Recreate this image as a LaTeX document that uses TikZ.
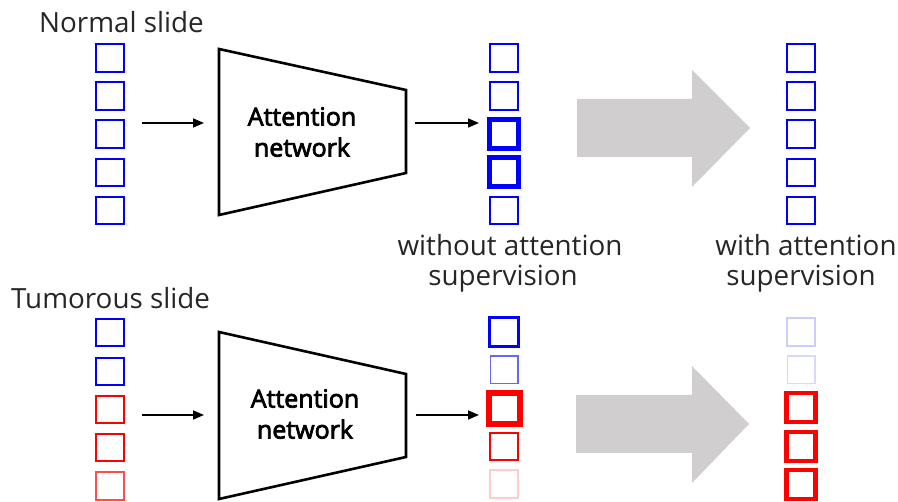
\documentclass[tikz,border=0pt]{standalone}
\usepackage{fontspec}
\setmainfont{Open Sans}
\newfontfamily\netfont[FakeBold=3]{Open Sans}
\usetikzlibrary{arrows.meta}
\definecolor{arrgray}{HTML}{D0CECE}
\definecolor{pblue}{HTML}{0000FF}
\definecolor{pred}{HTML}{FF0000}
\begin{document}
\begin{tikzpicture}[x=1pt,y=-1pt,
  sq/.style={draw, minimum size=27.5pt, inner sep=0pt, line width=1.8pt},
  bsq/.style={sq, draw=pblue},
  rsq/.style={sq, draw=pred},
  lbl/.style={font=\fontsize{27.8}{32}\selectfont, inner sep=0pt, text=black!85},
  net/.style={font=\fontsize{25}{31}\netfont, align=center, inner sep=0pt, text=black},
  conn/.style={line width=1.6pt, -{Triangle[length=11pt,width=9pt]}},
  bigarrow/.style={fill=arrgray, draw=none},
  trap/.style={draw=black, line width=2.6pt, line join=miter}]
\useasboundingbox (0,0) rectangle (898,502);

% ---------- top row ----------
\node[lbl, anchor=base west] (lblN) at (39,33) {Normal slide};
\foreach \i/\y in {1/58,2/96,3/134,4/172.5,5/210.5}
  \node[bsq] (tl\i) at (110,\y) {};
\draw[trap] (219,49) -- (406,90) -- (406,173) -- (219,215) -- cycle;
\node[net] (net1) at (302,132) {Attention\\network};
\coordinate (a1s) at (142,123); \coordinate (a1e) at (204,123);
\draw[conn] (a1s) -- (a1e);
\coordinate (a2s) at (415,123); \coordinate (a2e) at (479,123);
\draw[conn] (a2s) -- (a2e);
\node[bsq] (tm1) at (504,58) {};
\node[bsq] (tm2) at (504,96) {};
\node[bsq, line width=4.5pt, minimum size=29pt] (tm3) at (504,134) {};
\node[bsq, line width=4.5pt, minimum size=29pt] (tm4) at (504,172) {};
\node[bsq] (tm5) at (504,210.5) {};
\fill[bigarrow] (577,99) -- (692,99) -- (692,70) -- (750,128) -- (692,187) -- (692,157) -- (577,157) -- cycle;
\foreach \i/\y in {1/58,2/96,3/134,4/172.5,5/210.5}
  \node[bsq] (tr\i) at (801,\y) {};
\node[lbl, anchor=base] (wo1) at (510,256) {without attention};
\node[lbl, anchor=base] (wo2) at (503,286) {supervision};
\node[lbl, anchor=base] (wi1) at (806,256) {with attention};
\node[lbl, anchor=base] (wi2) at (801,286) {supervision};

% ---------- bottom row ----------
\node[lbl, anchor=base west] (lblT) at (11,309) {Tumorous slide};
\node[bsq] (bl1) at (110,332.5) {};
\node[bsq] (bl2) at (110,371.5) {};
\node[rsq] (bl3) at (110,409.5) {};
\node[rsq] (bl4) at (110,447.5) {};
\node[rsq, draw=pred!70] (bl5) at (110,486) {};
\draw[trap] (219,332) -- (406,374) -- (406,457) -- (219,499) -- cycle;
\node[net] (net2) at (305,414) {Attention\\network};
\coordinate (b1s) at (142,415); \coordinate (b1e) at (204,415);
\draw[conn] (b1s) -- (b1e);
\coordinate (b2s) at (416,415); \coordinate (b2e) at (479,415);
\draw[conn] (b2s) -- (b2e);
\node[bsq, line width=3.5pt, minimum size=29pt] (bm1) at (504,332) {};
\node[bsq, draw=pblue!60, line width=1.5pt] (bm2) at (504,370) {};
\node[rsq, line width=6pt, minimum size=31pt] (bm3) at (504,408.5) {};
\node[rsq, line width=2.4pt] (bm4) at (504,446.5) {};
\node[rsq, draw=pred!20, line width=2pt] (bm5) at (504,484) {};
\fill[bigarrow] (576,395) -- (692,395) -- (692,366) -- (749,424) -- (692,483) -- (692,453) -- (576,453) -- cycle;
\node[bsq, draw=pblue!20, line width=2pt] (br1) at (801,332) {};
\node[bsq, draw=pblue!15, line width=1.5pt] (br2) at (801,370) {};
\node[rsq, line width=4.5pt, minimum size=29pt] (br3) at (801,407.5) {};
\node[rsq, line width=4.5pt, minimum size=29pt] (br4) at (801,446.5) {};
\node[rsq, line width=4.5pt, minimum size=29pt] (br5) at (801,484.5) {};
\end{tikzpicture}
\end{document}
